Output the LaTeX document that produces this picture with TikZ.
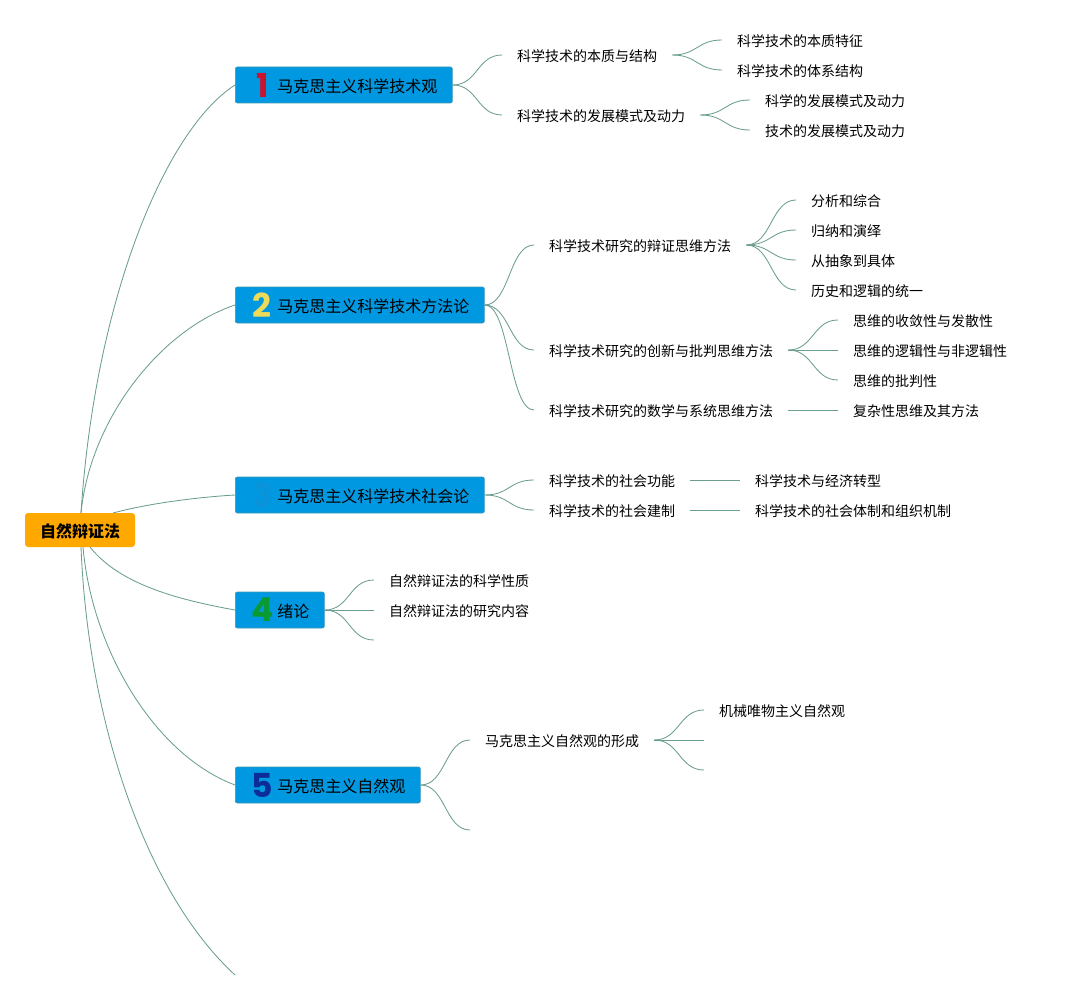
\documentclass[tikz,border=0pt]{standalone}
\usepackage{fontspec}
\setmainfont{Noto Sans CJK SC}
\newfontfamily\numfont{Poppins}
\definecolor{rootfill}{HTML}{FFA800}
\definecolor{boxfill}{HTML}{0098E0}
\definecolor{boxline}{HTML}{3C97B4}
\definecolor{link}{HTML}{6B9E8E}
\definecolor{numA}{HTML}{C8142E}
\definecolor{numB}{HTML}{EEDC58}
\definecolor{numC}{HTML}{0A93D8}
\definecolor{numD}{HTML}{0A9A32}
\definecolor{numE}{HTML}{0C2C98}
\tikzset{
  x=1pt,y=-1pt,
  conn/.style={draw=link,line width=0.85pt},
  rootbox/.style={fill=rootfill,rounded corners=3pt,minimum width=110pt,minimum height=34pt,inner sep=0pt,text height=16pt,text depth=1.4pt,font=\fontsize{16}{18}\selectfont\bfseries},
  mainbox/.style={fill=boxfill,draw=boxline,line width=0.7pt,rounded corners=2pt,anchor=west,minimum height=36pt,inner xsep=0pt,inner ysep=0pt,text height=16pt,text depth=1.4pt,font=\fontsize{16}{18}\selectfont},
  leaf/.style={anchor=west,inner xsep=15pt,inner ysep=0pt,minimum height=20pt,text height=15pt,text depth=1.4pt,font=\fontsize{14}{16}\selectfont},
  numeral/.style={inner sep=0pt,font=\fontsize{33}{33}\selectfont\numfont\bfseries},
}
\newcommand{\lnk}[2]{\draw[conn] (#1) .. controls +(25,0) and +(-25,0) .. (#2);}
\newcommand{\mainlabel}[1]{\hspace*{42pt}#1\hspace*{15pt}}
\begin{document}
\begin{tikzpicture}
\useasboundingbox (0,0) rectangle (1067,1000);
% root
\node[rootbox] (root) at (80,530) {自然辩证法};
\coordinate (rootA) at (81,513);
\coordinate (rootB) at (113,513);
\coordinate (rootC) at (90,547);
\coordinate (rootD) at (83,547);
\coordinate (rootE) at (81,547);
\coordinate (end6) at (235,975);
% main boxes
\node[mainbox] (b1) at (235,85) {\mainlabel{马克思主义科学技术观}};
\node[mainbox] (b2) at (235,305) {\mainlabel{马克思主义科学技术方法论}};
\node[mainbox] (b3) at (235,495) {\mainlabel{马克思主义科学技术社会论}};
\node[mainbox] (b4) at (235,610) {\mainlabel{绪论}};
\node[mainbox] (b5) at (235,785) {\mainlabel{马克思主义自然观}};
\node[numeral,text=numA] (n1) at (263,85) {1};
\node[numeral,text=numB] (n2) at (262,305) {2};
\node[numeral,text=numC] (n3) at (262,495) {3};
\node[numeral,text=numD] (n4) at (263,610) {4};
\node[numeral,text=numE] (n5) at (262,785) {5};
% root connectors
\draw[conn] (rootA) .. controls (95,300) and (165,130) .. (b1.west);
\draw[conn] (rootA) .. controls (90,420) and (160,330) .. (b2.west);
\draw[conn] (rootB) .. controls (150,503) and (200,497) .. (b3.west);
\draw[conn] (rootC) .. controls (120,585) and (180,600) .. (b4.west);
\draw[conn] (rootD) .. controls (92,650) and (155,755) .. (b5.west);
\draw[conn] (rootE) .. controls (88,720) and (145,892) .. (end6);
% branch 1
\node[leaf] (a1) at (502,55) {科学技术的本质与结构};
\node[leaf] (a2) at (502,115) {科学技术的发展模式及动力};
\node[leaf] (a11) at (722,40) {科学技术的本质特征};
\node[leaf] (a12) at (722,70) {科学技术的体系结构};
\node[leaf] (a21) at (750,100) {科学的发展模式及动力};
\node[leaf] (a22) at (750,130) {技术的发展模式及动力};
\lnk{b1.east}{a1.west}\lnk{b1.east}{a2.west}
\lnk{a1.east}{a11.west}\lnk{a1.east}{a12.west}
\lnk{a2.east}{a21.west}\lnk{a2.east}{a22.west}
% branch 2
\node[leaf] (c1) at (534,245) {科学技术研究的辩证思维方法};
\node[leaf] (c2) at (534,350) {科学技术研究的创新与批判思维方法};
\node[leaf] (c3) at (534,410) {科学技术研究的数学与系统思维方法};
\node[leaf] (c11) at (796,200) {分析和综合};
\node[leaf] (c12) at (796,230) {归纳和演绎};
\node[leaf] (c13) at (796,260) {从抽象到具体};
\node[leaf] (c14) at (796,290) {历史和逻辑的统一};
\node[leaf] (c21) at (838,320) {思维的收敛性与发散性};
\node[leaf] (c22) at (838,350) {思维的逻辑性与非逻辑性};
\node[leaf] (c23) at (838,380) {思维的批判性};
\node[leaf] (c31) at (838,410) {复杂性思维及其方法};
\lnk{b2.east}{c1.west}\lnk{b2.east}{c2.west}\lnk{b2.east}{c3.west}
\lnk{c1.east}{c11.west}\lnk{c1.east}{c12.west}\lnk{c1.east}{c13.west}\lnk{c1.east}{c14.west}
\lnk{c2.east}{c21.west}\lnk{c2.east}{c22.west}\lnk{c2.east}{c23.west}
\lnk{c3.east}{c31.west}
% branch 3
\node[leaf] (d1) at (534,480) {科学技术的社会功能};
\node[leaf] (d2) at (534,510) {科学技术的社会建制};
\node[leaf] (d11) at (740,480) {科学技术与经济转型};
\node[leaf] (d21) at (740,510) {科学技术的社会体制和组织机制};
\lnk{b3.east}{d1.west}\lnk{b3.east}{d2.west}
\lnk{d1.east}{d11.west}\lnk{d2.east}{d21.west}
% branch 4
\node[leaf] (e1) at (374,580) {自然辩证法的科学性质};
\node[leaf] (e2) at (374,610) {自然辩证法的研究内容};
\coordinate (e3) at (374,640);
\lnk{b4.east}{e1.west}\lnk{b4.east}{e2.west}\lnk{b4.east}{e3}
% branch 5
\node[leaf] (f1) at (470,740) {马克思主义自然观的形成};
\coordinate (f2) at (470,830);
\node[leaf] (f11) at (704,710) {机械唯物主义自然观};
\coordinate (f12) at (704,740);
\coordinate (f13) at (704,770);
\lnk{b5.east}{f1.west}\lnk{b5.east}{f2}
\lnk{f1.east}{f11.west}\lnk{f1.east}{f12}\lnk{f1.east}{f13}
\end{tikzpicture}
\end{document}
